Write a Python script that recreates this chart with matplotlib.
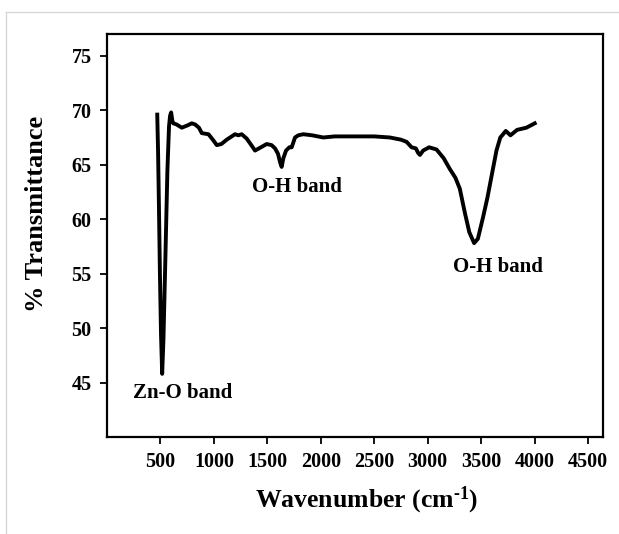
import numpy as np
import matplotlib
matplotlib.use('Agg')
import matplotlib.pyplot as plt
from matplotlib.lines import Line2D

# FTIR spectrum values
wavenumber = [470, 478, 486, 495, 505, 516, 528, 545, 565, 580, 590, 600, 612, 621,
              650, 700, 750, 793, 824, 860, 887, 949, 990, 1027, 1070, 1120, 1198,
              1229, 1260, 1307, 1350, 1385, 1440, 1494, 1540, 1572, 1600, 1620, 1634,
              1650, 1675, 1706, 1728, 1759, 1790, 1836, 1920, 2023, 2130, 2242, 2382,
              2500, 2647, 2750, 2803, 2850, 2890, 2910, 2928, 2958, 3014, 3083, 3150,
              3208, 3260, 3301, 3348, 3390, 3435, 3470, 3519, 3560, 3597, 3644, 3680,
              3706, 3731, 3775, 3837, 3924, 4002]
transmittance = [69.6, 66.0, 61.0, 55.0, 49.5, 45.8, 49.0, 56.0, 64.5, 68.5, 69.5, 69.8,
                 69.0, 68.8, 68.7, 68.4, 68.6, 68.8, 68.7, 68.4, 67.9, 67.8, 67.3, 66.8,
                 66.9, 67.3, 67.8, 67.7, 67.8, 67.4, 66.8, 66.3, 66.6, 66.9, 66.8, 66.5,
                 66.0, 65.2, 64.8, 65.6, 66.3, 66.6, 66.6, 67.5, 67.7, 67.8, 67.7, 67.5,
                 67.6, 67.6, 67.6, 67.6, 67.5, 67.3, 67.1, 66.6, 66.5, 66.1, 65.9, 66.3,
                 66.6, 66.4, 65.6, 64.6, 63.8, 62.8, 60.6, 58.8, 57.8, 58.2, 60.2, 62.0,
                 63.9, 66.3, 67.5, 67.8, 68.1, 67.7, 68.2, 68.4, 68.8]

band_labels = ['Zn-O band', 'O-H band', 'O-H band']
band_x = [712, 1776, 3655]
band_y = [44.0, 63.0, 55.6]

x_ticks = [500, 1000, 1500, 2000, 2500, 3000, 3500, 4000, 4500]
y_ticks = [45, 50, 55, 60, 65, 70, 75]

plt.rcParams['font.family'] = ['Liberation Serif', 'DejaVu Serif']
plt.rcParams['font.weight'] = 'bold'
plt.rcParams['mathtext.fontset'] = 'custom'
plt.rcParams['mathtext.rm'] = 'Liberation Serif:bold'
plt.rcParams['mathtext.it'] = 'Liberation Serif:bold'
plt.rcParams['mathtext.bf'] = 'Liberation Serif:bold'

fig = plt.figure(figsize=(6.19, 5.34), dpi=100)
ax = fig.add_axes([0.1729, 0.1816, 0.8011, 0.7547])

ax.plot(wavenumber, transmittance, color='black', lw=2.8, solid_joinstyle='round')

for txt, bx, by in zip(band_labels, band_x, band_y):
    ax.text(bx, by, txt, ha='center', va='center', fontsize=15, fontweight='bold')

ax.set_xlim(0, 4640)
ax.set_ylim(40, 77)
ax.set_xticks(x_ticks)
ax.set_yticks(y_ticks)
ax.tick_params(direction='out', length=5, width=1.3, labelsize=14.5, pad=6)
for lab in ax.get_xticklabels() + ax.get_yticklabels():
    lab.set_fontweight('bold')
for sp in ax.spines.values():
    sp.set_linewidth(1.6)

ax.set_xlabel(r'Wavenumber (cm$^{\text{-1}}$)', fontsize=18.5, fontweight='bold', labelpad=9)
ax.set_ylabel('% Transmittance', fontsize=19, fontweight='bold', labelpad=17)
ax.xaxis.label.set_x(0.523)
ax.yaxis.label.set_y(0.553)

# light grey frame seen at the top and left of the picture
fig.add_artist(Line2D([6 / 619, 1.0], [1 - 12 / 534, 1 - 12 / 534], color='#d8d8d8', lw=1))
fig.add_artist(Line2D([6 / 619, 6 / 619], [0.0, 1 - 12 / 534], color='#d8d8d8', lw=1))

fig.savefig('out.png', dpi=100)
